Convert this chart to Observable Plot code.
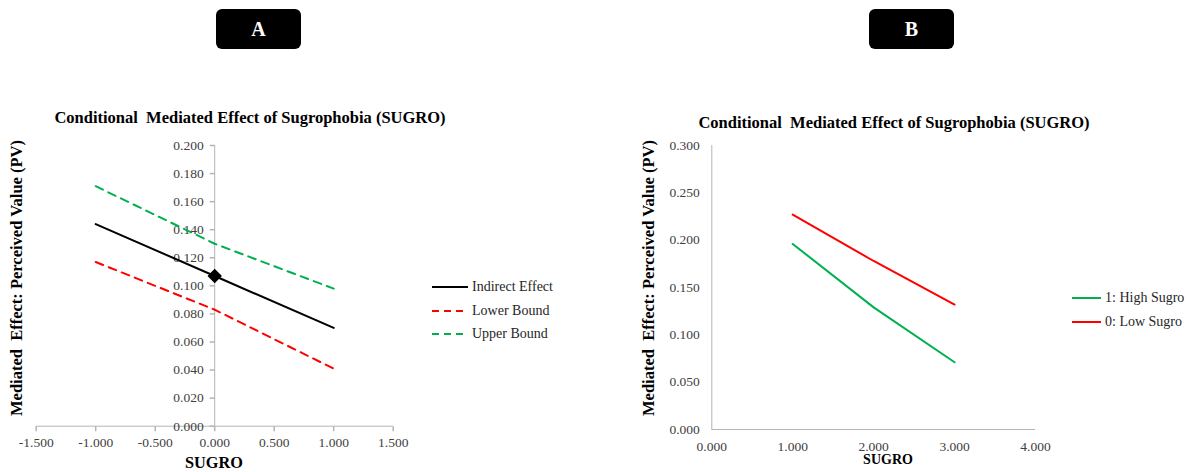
<!DOCTYPE html>
<html><head><meta charset="utf-8">
<script src="https://cdn.jsdelivr.net/npm/d3@7"></script>
<script src="https://cdn.jsdelivr.net/npm/@observablehq/plot@0.6"></script>
<style>
body{margin:0;background:#fff;}
#root{position:relative;width:1188px;height:472px;overflow:hidden;font-family:"Liberation Serif",Tinos,"Times New Roman",Times,"DejaVu Serif",serif;color:#000;}
.abs{position:absolute;white-space:pre;line-height:1;}
.badge{position:absolute;background:#000;color:#fff;border-radius:6px;font-weight:bold;font-size:20px;display:flex;align-items:center;justify-content:center;}
.title{font-weight:bold;font-size:16.5px;transform:translate(-50%,-50%);}
.ytitle{font-weight:bold;font-size:16.5px;transform:translate(-50%,-50%) rotate(-90deg);}
.xtitle{font-weight:bold;transform:translate(-50%,-50%);}
.leg{position:absolute;font-size:14px;color:#262626;display:flex;align-items:center;white-space:nowrap;line-height:1;}
.leg svg{margin-right:4px;}
.plot{position:absolute;}
</style></head>
<body><div id="root"></div>
<script>
// ---- Panel A data ----
const sugroA = [-1, 0, 1];
const indirectEffect = [0.144, 0.107, 0.070];
const lowerBound = [0.117, 0.083, 0.041];
const upperBound = [0.171, 0.130, 0.098];
const xTicksA = [-1.5, -1.0, -0.5, 0, 0.5, 1.0, 1.5];
const yTicksA = [0, 0.02, 0.04, 0.06, 0.08, 0.10, 0.12, 0.14, 0.16, 0.18, 0.20];
const seriesNamesA = ["Indirect Effect", "Lower Bound", "Upper Bound"];
const seriesColorsA = ["#000000", "#ff0000", "#00b050"];
const seriesDashA = [null, "8,6", "8,6"];

// ---- Panel B data ----
const sugroB = [1, 2, 3];
const highSugro = [0.196, 0.129, 0.071];
const lowSugro = [0.227, 0.178, 0.132];
const xTicksB = [0, 1, 2, 3, 4];
const yTicksB = [0, 0.05, 0.10, 0.15, 0.20, 0.25, 0.30];
const seriesNamesB = ["1: High Sugro", "0: Low Sugro"];
const seriesColorsB = ["#00b050", "#ff0000"];

const titleText = "Conditional  Mediated Effect of Sugrophobia (SUGRO)";
const yTitleText = "Mediated  Effect: Perceived Value (PV)";
const xTitleText = "SUGRO";

const fmt = d => d.toFixed(3);
const axisGray = "#b4b4b4";
const tickText = "#404040";
const fontFam = '"Liberation Serif", Tinos, "Times New Roman", Times, "DejaVu Serif", serif';

const root = document.getElementById("root");
function addDiv(cls, text, style) {
  const d = document.createElement("div");
  d.className = cls;
  d.textContent = text;
  Object.assign(d.style, style);
  root.appendChild(d);
  return d;
}
const tickLeft = {draw(ctx){ ctx.moveTo(0,0); ctx.lineTo(-5,0); }};
const tickDown = {draw(ctx){ ctx.moveTo(0,0); ctx.lineTo(0,5); }};

// ---- Panel A ----
const rowsA = (vals, name) => sugroA.map((x, i) => ({x, y: vals[i], series: name}));
const valsA = [indirectEffect, lowerBound, upperBound];
const plotA = Plot.plot({
  width: 520, height: 372,
  marginLeft: 35.7, marginRight: 127.3, marginTop: 45, marginBottom: 46.3,
  x: {domain: [-1.5, 1.5], axis: null},
  y: {domain: [0, 0.2], axis: null},
  style: {fontFamily: fontFam, fontSize: "13.5px", background: "transparent", overflow: "visible"},
  marks: [
    Plot.ruleY([0], {stroke: axisGray}),
    Plot.ruleX([0], {stroke: axisGray}),
    Plot.dot(xTicksA, {x: d => d, y: 0, symbol: tickDown, stroke: axisGray, fill: "none", r: 5}),
    Plot.dot(yTicksA, {x: 0, y: d => d, symbol: tickLeft, stroke: axisGray, fill: "none", r: 5}),
    Plot.text(xTicksA, {x: d => d, y: 0, text: fmt, dy: 16, fill: tickText}),
    Plot.text(yTicksA, {x: 0, y: d => d, text: fmt, textAnchor: "end", dx: -11, fill: tickText}),
    ...valsA.map((v, i) => Plot.line(rowsA(v, seriesNamesA[i]), {
      x: "x", y: "y", stroke: seriesColorsA[i], strokeWidth: 2,
      strokeDasharray: seriesDashA[i] || undefined
    })),
    Plot.dot([{x: sugroA[1], y: indirectEffect[1]}], {x: "x", y: "y", symbol: "diamond2", r: 6.5, fill: "#000"})
  ]
});
plotA.classList.add("plot");
plotA.style.left = "0px"; plotA.style.top = "100px";
root.appendChild(plotA);

// ---- Panel B ----
const rowsB = (vals, name) => sugroB.map((x, i) => ({x, y: vals[i], series: name}));
const valsB = [highSugro, lowSugro];
const plotB = Plot.plot({
  width: 548, height: 372,
  marginLeft: 71.3, marginRight: 153, marginTop: 45, marginBottom: 43,
  x: {domain: [0, 4], axis: null},
  y: {domain: [0, 0.3], axis: null},
  style: {fontFamily: fontFam, fontSize: "13.5px", background: "transparent", overflow: "visible"},
  marks: [
    Plot.ruleY([0], {stroke: axisGray}),
    Plot.ruleX([0], {stroke: axisGray}),
    Plot.text(xTicksB, {x: d => d, y: 0, text: fmt, dy: 17, fill: tickText}),
    Plot.text(yTicksB, {x: 0, y: d => d, text: fmt, textAnchor: "end", dx: -12, fill: tickText}),
    ...valsB.map((v, i) => Plot.line(rowsB(v, seriesNamesB[i]), {
      x: "x", y: "y", stroke: seriesColorsB[i], strokeWidth: 2
    }))
  ]
});
plotB.classList.add("plot");
plotB.style.left = "640px"; plotB.style.top = "100px";
root.appendChild(plotB);

// ---- Badges ----
addDiv("badge", "A", {left: "216px", top: "9px", width: "85px", height: "40px"});
addDiv("badge", "B", {left: "869px", top: "9px", width: "85px", height: "40px"});

// ---- Titles ----
addDiv("abs title", titleText, {left: "250px", top: "118px"});
addDiv("abs title", titleText, {left: "894px", top: "123px"});
addDiv("abs ytitle", yTitleText, {left: "17px", top: "278px"});
addDiv("abs ytitle", yTitleText, {left: "649px", top: "278px"});
addDiv("abs xtitle", xTitleText, {left: "214px", top: "463px", fontSize: "16.3px"});
addDiv("abs xtitle", xTitleText, {left: "888px", top: "460px", fontSize: "14px"});

// ---- Legends ----
function legendItem(x, y, w, color, dash, label) {
  const d = document.createElement("div");
  d.className = "leg";
  d.style.left = x + "px"; d.style.top = (y - 8) + "px"; d.style.height = "16px";
  const svg = d3.create("svg").attr("width", w).attr("height", 6);
  svg.append("line").attr("x1", 0).attr("x2", w).attr("y1", 3).attr("y2", 3)
    .attr("stroke", color).attr("stroke-width", 2).attr("stroke-dasharray", dash);
  d.appendChild(svg.node());
  const s = document.createElement("span");
  s.textContent = label;
  d.appendChild(s);
  root.appendChild(d);
}
const legYA = [287, 311, 334];
seriesNamesA.forEach((n, i) => legendItem(432, legYA[i], 36, seriesColorsA[i], seriesDashA[i] ? "7,5" : null, n));
const legYB = [298, 322];
seriesNamesB.forEach((n, i) => legendItem(1072, legYB[i], 29, seriesColorsB[i], null, n));
</script>
</body></html>
